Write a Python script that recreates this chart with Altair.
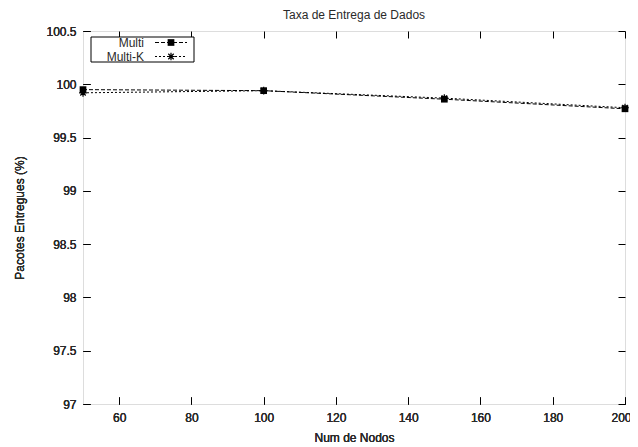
import altair as alt
import pandas as pd

# ---- data ----
nodes = [50, 100, 150, 200]
multi = [99.95, 99.94, 99.86, 99.77]
multi_k = [99.92, 99.94, 99.87, 99.78]
series_names = ["Multi", "Multi-K"]
x_ticks = [60, 80, 100, 120, 140, 160, 180, 200]
y_ticks = [97, 97.5, 98, 98.5, 99, 99.5, 100, 100.5]

W, H = 542, 373
FONT = "Liberation Sans"
TXT = "#2a2a2a"
STAR = "M-1,0L1,0M0,-1L0,1M-0.7,-0.7L0.7,0.7M-0.7,0.7L0.7,-0.7"

df = pd.DataFrame({
    "nodes": nodes + nodes,
    "value": multi + multi_k,
    "series": [series_names[0]] * len(nodes) + [series_names[1]] * len(nodes),
})
df_multi = df[df.series == series_names[0]]
df_multik = df[df.series == series_names[1]]

xscale = alt.Scale(domain=[50, 200], nice=False, zero=False)
yscale = alt.Scale(domain=[97, 100.5], nice=False, zero=False)

common_axis = dict(domain=False, grid=False, tickSize=7, offset=-7, tickColor="black",
                   tickWidth=1, labelFont=FONT, labelFontSize=12, labelColor=TXT,
                   titleFont=FONT, titleFontSize=12, titleFontWeight="normal",
                   titleColor=TXT, labelOverlap=False)

x_main = alt.X("nodes:Q", scale=xscale,
               axis=alt.Axis(orient="bottom", values=x_ticks, labelPadding=8,
                             labelFlush=True, labelFlushOffset=6,
                             title="Num de Nodos", titlePadding=9, **common_axis))
y_main = alt.Y("value:Q", scale=yscale,
               axis=alt.Axis(orient="left", values=y_ticks, format="~g", labelPadding=7,
                             labelFlush=False,
                             title="Pacotes Entregues (%)", titlePadding=19, **common_axis))

x_top = alt.X("nodes:Q", scale=xscale,
              axis=alt.Axis(orient="top", values=x_ticks, labels=False, title=None,
                            domain=False, grid=False, tickSize=7, offset=-7, tickColor="black"))
y_right = alt.Y("value:Q", scale=yscale,
                axis=alt.Axis(orient="right", values=y_ticks, labels=False, title=None,
                              domain=False, grid=False, tickSize=7, offset=-7, tickColor="black"))

line_multi = alt.Chart(df_multi).mark_line(color="black", strokeWidth=1, strokeDash=[4, 2]).encode(
    x=x_main, y=y_main)
line_multik = alt.Chart(df_multik).mark_line(color="black", strokeWidth=1, strokeDash=[2, 2]).encode(
    x=x_main, y=y_main)
pts_multi = alt.Chart(df_multi).mark_point(shape="square", filled=True, color="black",
                                            size=45, opacity=1).encode(x=x_top, y=y_right)
pts_multik = alt.Chart(df_multik).mark_point(shape=STAR, filled=False, color="black",
                                              size=60, strokeWidth=1.2, opacity=1).encode(
    x=x_main, y=y_main)

# ---- gnuplot-style legend box (top-left, inside plot) ----
box_df = pd.DataFrame({"k": [0]})
legend_box = alt.Chart(box_df).mark_rect(fill="white", stroke="black", strokeWidth=1).encode(
    x=alt.value(8), x2=alt.value(111), y=alt.value(6), y2=alt.value(31))

legend_layers = [legend_box]
styles = [([4, 2], "square", True, 45), ([2, 2], STAR, False, 60)]
for i, name in enumerate(series_names):
    yy = 11.5 + 14 * i
    dash, shape, filled, size = styles[i]
    ldf = pd.DataFrame({"series": [name]})
    legend_layers.append(alt.Chart(ldf).mark_text(align="right", baseline="middle", font=FONT,
                                                  fontSize=12, color=TXT).encode(
        x=alt.value(61), y=alt.value(yy), text="series:N"))
    legend_layers.append(alt.Chart(ldf).mark_rule(color="black", strokeWidth=1, strokeDash=dash).encode(
        x=alt.value(72), x2=alt.value(104), y=alt.value(yy)))
    legend_layers.append(alt.Chart(ldf).mark_point(shape=shape, filled=filled, color="black",
                                                   size=size, strokeWidth=1.2, opacity=1).encode(
        x=alt.value(88), y=alt.value(yy)))

chart = alt.layer(line_multi, line_multik, pts_multi, pts_multik, *legend_layers).properties(
    width=W, height=H,
    title=alt.Title("Taxa de Entrega de Dados", font=FONT, fontSize=12, fontWeight="normal",
                    color=TXT, anchor="middle", frame="group", offset=3),
    padding={"left": 75, "top": 23, "right": 5, "bottom": 42},
    autosize=alt.AutoSizeParams(type="none"),
).resolve_axis(x="independent", y="independent").configure_view(
    stroke="black", strokeWidth=1).configure(background="white")

chart.save("out.html", embed_options={"renderer": "svg", "actions": False})
